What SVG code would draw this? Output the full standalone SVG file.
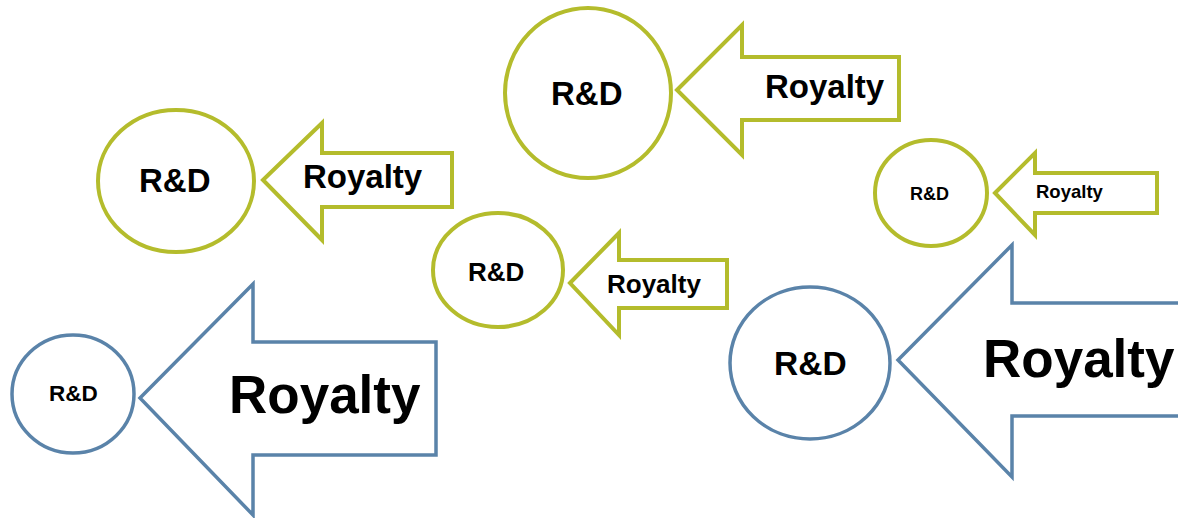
<svg xmlns="http://www.w3.org/2000/svg" width="1178" height="518" viewBox="0 0 1178 518">
<style>
.g{fill:#fff;stroke:#b4bc2c;stroke-width:4;stroke-linejoin:miter}
.b{fill:#fff;stroke:#5a83a9;stroke-width:3.5;stroke-linejoin:miter}
.t{font-family:"Liberation Sans",Arial,sans-serif;font-weight:bold;fill:#000}
</style>
<rect width="1178" height="518" fill="#fff"/>
<g id="pair1">
<g id="rd1"><ellipse class="g" cx="588" cy="93" rx="83" ry="85"/><text class="t" x="551" y="105" font-size="33">R&amp;D</text></g>
<g id="roy1"><polygon class="g" points="677,90 742,25 742,57 899,57 899,120 742,120 742,155"/><text class="t" x="765" y="98" font-size="33">Royalty</text></g>
</g>
<g id="pair2">
<g id="rd2"><ellipse class="g" cx="176" cy="181" rx="78" ry="71"/><text class="t" x="139" y="192" font-size="33">R&amp;D</text></g>
<g id="roy2"><polygon class="g" points="263,180 322,123 322,153 452,153 452,207 322,207 322,240"/><text class="t" x="303" y="188" font-size="33">Royalty</text></g>
</g>
<g id="pair3">
<g id="rd3"><ellipse class="g" cx="931" cy="193" rx="56" ry="53"/><text class="t" x="910" y="200" font-size="18">R&amp;D</text></g>
<g id="roy3"><polygon class="g" points="995,193 1035,153 1035,173 1157,173 1157,213 1035,213 1035,235"/><text class="t" x="1036" y="198" font-size="18.5">Royalty</text></g>
</g>
<g id="pair4">
<g id="rd4"><ellipse class="g" cx="498" cy="270" rx="65" ry="57"/><text class="t" x="468" y="281" font-size="26">R&amp;D</text></g>
<g id="roy4"><polygon class="g" points="570,283 619,233 619,260 727,260 727,308 619,308 619,335"/><text class="t" x="607" y="293" font-size="26">Royalty</text></g>
</g>
<g id="pair5">
<g id="rd5"><ellipse class="b" cx="73" cy="394" rx="61" ry="59"/><text class="t" x="49" y="401" font-size="22.5">R&amp;D</text></g>
<g id="roy5"><polygon class="b" points="140,398 253,284 253,342 436,342 436,455 253,455 253,515"/><text class="t" x="229" y="413" font-size="53">Royalty</text></g>
</g>
<g id="pair6">
<g id="rd6"><ellipse class="b" cx="810" cy="363" rx="80" ry="76"/><text class="t" x="774" y="375" font-size="33.5">R&amp;D</text></g>
<g id="roy6"><polygon class="b" points="898,360 1012,245 1012,303 1190,303 1190,416 1012,416 1012,477"/><text class="t" x="983" y="377" font-size="53">Royalty</text></g>
</g>
<g id="connectors"/>
</svg>
